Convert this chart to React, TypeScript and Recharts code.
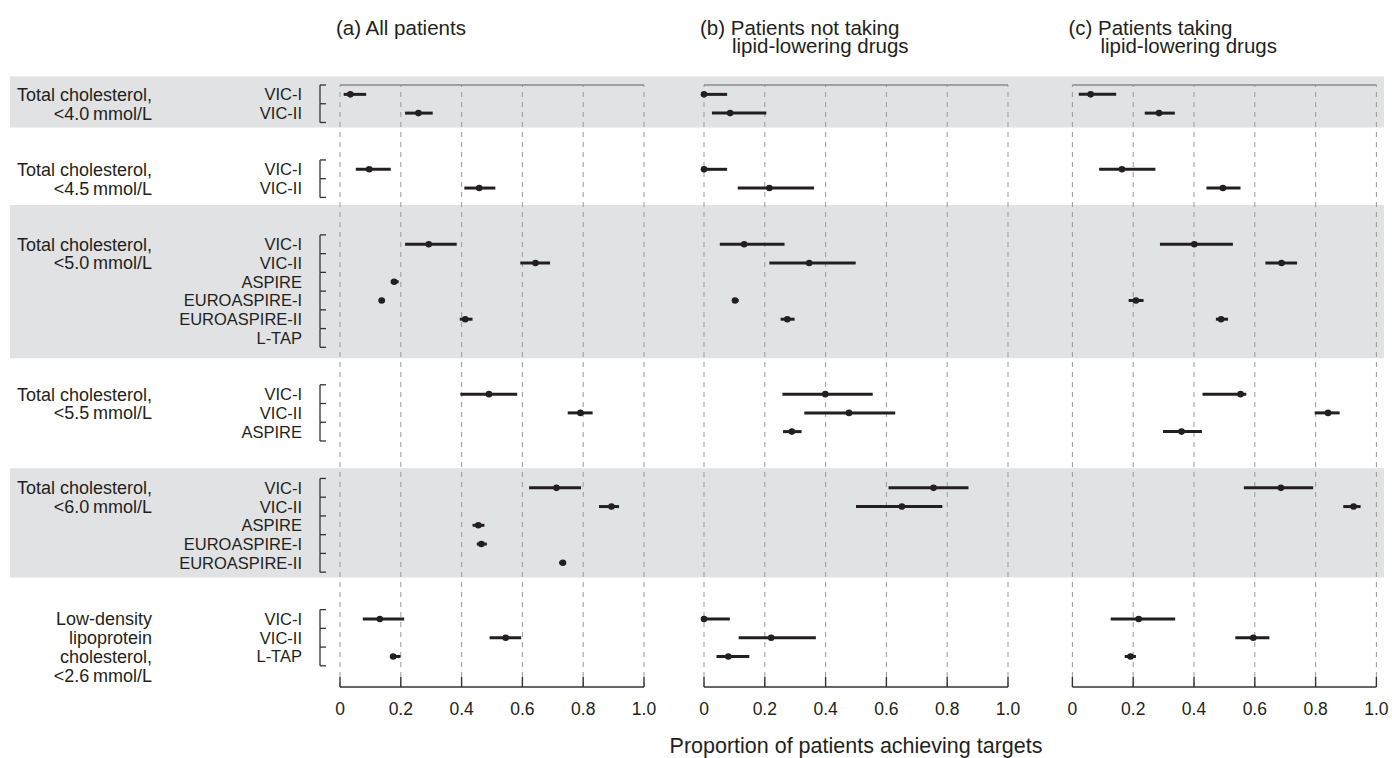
import React from "react";
import {
  ScatterChart,
  Scatter,
  XAxis,
  YAxis,
  ErrorBar,
  ReferenceArea,
  ReferenceLine,
} from "recharts";

// group (target) labels, one entry per line
const groupLabels: string[][] = [
  ["Total cholesterol,", "<4.0\u2009mmol/L"],
  ["Total cholesterol,", "<4.5\u2009mmol/L"],
  ["Total cholesterol,", "<5.0\u2009mmol/L"],
  ["Total cholesterol,", "<5.5\u2009mmol/L"],
  ["Total cholesterol,", "<6.0\u2009mmol/L"],
  ["Low-density", "lipoprotein", "cholesterol,", "<2.6\u2009mmol/L"],
];

// studies inside each group
const groupStudies: string[][] = [
  ["VIC-I", "VIC-II"],
  ["VIC-I", "VIC-II"],
  ["VIC-I", "VIC-II", "ASPIRE", "EUROASPIRE-I", "EUROASPIRE-II", "L-TAP"],
  ["VIC-I", "VIC-II", "ASPIRE"],
  ["VIC-I", "VIC-II", "ASPIRE", "EUROASPIRE-I", "EUROASPIRE-II"],
  ["VIC-I", "VIC-II", "L-TAP"],
];

// (a) all patients: estimate, lower and upper 95% CI (rows in study order above)
const estA = [0.034, 0.258, 0.096, 0.458, 0.292, 0.643, 0.178, 0.137, 0.412, null, 0.49, 0.791, null, 0.712, 0.893, 0.455, 0.465, 0.733, 0.131, 0.545, 0.175];
const loA = [0.012, 0.214, 0.052, 0.409, 0.214, 0.593, 0.167, 0.128, 0.394, null, 0.396, 0.749, null, 0.622, 0.852, 0.436, 0.45, 0.721, 0.075, 0.492, 0.164];
const hiA = [0.086, 0.305, 0.167, 0.511, 0.384, 0.691, 0.193, 0.148, 0.436, null, 0.583, 0.831, null, 0.793, 0.918, 0.475, 0.483, 0.744, 0.211, 0.596, 0.199];

// (b) patients not taking lipid-lowering drugs
const estB = [0.0, 0.086, 0.0, 0.215, 0.132, 0.346, null, 0.102, 0.274, null, 0.399, 0.477, 0.289, 0.755, 0.651, null, null, null, 0.0, 0.221, 0.08];
const loB = [0.0, 0.026, 0.0, 0.111, 0.052, 0.215, null, 0.092, 0.252, null, 0.258, 0.33, 0.26, 0.607, 0.5, null, null, null, 0.0, 0.114, 0.041];
const hiB = [0.076, 0.205, 0.076, 0.362, 0.265, 0.499, null, 0.114, 0.298, null, 0.555, 0.629, 0.321, 0.87, 0.784, null, null, null, 0.085, 0.368, 0.149];

// (c) patients taking lipid-lowering drugs
const estC = [0.06, 0.285, 0.163, 0.495, 0.401, 0.688, null, 0.209, 0.489, null, 0.553, 0.841, 0.359, 0.686, 0.925, null, null, null, 0.218, 0.595, 0.191];
const loC = [0.021, 0.238, 0.088, 0.441, 0.288, 0.635, null, 0.185, 0.472, null, 0.428, 0.797, 0.298, 0.564, 0.891, null, null, null, 0.126, 0.536, 0.172];
const hiC = [0.144, 0.337, 0.273, 0.553, 0.528, 0.739, null, 0.234, 0.512, null, 0.572, 0.879, 0.426, 0.792, 0.948, null, null, null, 0.338, 0.648, 0.209];

const panelTitles: string[][] = [
  ["(a) All patients"],
  ["(b) Patients not taking", "lipid-lowering drugs"],
  ["(c) Patients taking", "lipid-lowering drugs"],
];

const xTicks = [0, 0.2, 0.4, 0.6, 0.8, 1.0];
const xTickLabels = ["0", "0.2", "0.4", "0.6", "0.8", "1.0"];
const axisTitle = "Proportion of patients achieving targets";

// layout
const W = 1392;
const H = 758;
const PLOT_LEFT = 10;
const PLOT_RIGHT = 1384;
const PLOT_TOP = 85;
const PLOT_BOTTOM = 687;
const PANEL_LEFT = [340, 704, 1072.4];
const PANEL_W = 304;
const GROUP_GAP = 2;
const AXIS_EPS = 0.001; // axes need a positive size to be drawn
const INK = "#231f20";
const FONT = "'Liberation Sans', Arial, Helvetica, sans-serif";
const BAND_FILL = "#e1e2e4";
// shaded bands, in row-slot units
const BANDS: [number, number][] = [
  [-0.95, 1.77],
  [5.9, 14.08],
  [19.96, 25.78],
];

type Row = { slot: number; study: string; group: number; first: boolean; last: boolean };

const rows: Row[] = [];
let counter = 0;
groupStudies.forEach((studies, g) => {
  studies.forEach((study, i) => {
    rows.push({
      slot: counter + GROUP_GAP * g,
      study,
      group: g,
      first: i === 0,
      last: i === studies.length - 1,
    });
    counter += 1;
  });
});

const Y_MIN = -0.5;
const Y_MAX = rows[rows.length - 1].slot + 1.63;
const SLOT_PX = (PLOT_BOTTOM - PLOT_TOP) / (Y_MAX - Y_MIN);
const rowBySlot = new Map(rows.map((r) => [r.slot, r]));

const panelSeries = [
  [estA, loA, hiA],
  [estB, loB, hiB],
  [estC, loC, hiC],
];
const panelIds = ["a", "b", "c"];

const panelData = panelSeries.map(([est, lo, hi]) =>
  rows
    .map((r, i) => ({
      slot: r.slot,
      est: est[i],
      err: est[i] == null ? null : [(est[i] as number) - (lo[i] as number), (hi[i] as number) - (est[i] as number)],
    }))
    .filter((d) => d.est != null)
);

const xDomain = (p: number): [number, number] => [
  (PLOT_LEFT - PANEL_LEFT[p]) / PANEL_W,
  (PLOT_RIGHT - PANEL_LEFT[p]) / PANEL_W,
];

const RowTick = (props: any) => {
  const { y, payload } = props;
  const row = rowBySlot.get(payload.value);
  if (!row) return null;
  const top = y - SLOT_PX / 2;
  const bottom = y + SLOT_PX / 2;
  const bx = 320;
  return (
    <g>
      <text x={302} y={y} dy="0.36em" textAnchor="end" fontSize={16.5} fontFamily={FONT} fill={INK}>
        {row.study}
      </text>
      <line x1={bx} x2={bx} y1={top} y2={bottom} stroke="#333" strokeWidth={1.3} />
      <line x1={bx} x2={bx + 6} y1={top} y2={top} stroke="#333" strokeWidth={1.3} />
      {row.last && <line x1={bx} x2={bx + 6} y1={bottom} y2={bottom} stroke="#333" strokeWidth={1.3} />}
      {row.first &&
        groupLabels[row.group].map((t, i) => (
          <text key={i} x={152} y={y + i * SLOT_PX} dy="0.36em" textAnchor="end" fontSize={18} fontFamily={FONT} fill={INK}>
            {t}
          </text>
        ))}
    </g>
  );
};

const AxisTick = (props: any) => {
  const { x, y, payload } = props;
  const idx = xTicks.indexOf(payload.value);
  return (
    <g>
      <line x1={x} x2={x} y1={y - 10} y2={y} stroke="#333" strokeWidth={1.4} />
      <text x={x} y={y + 28} textAnchor="middle" fontSize={17.5} fontFamily={FONT} fill={INK}>
        {idx >= 0 ? xTickLabels[idx] : payload.value}
      </text>
    </g>
  );
};

const Dot = (props: any) => <circle cx={props.cx} cy={props.cy} r={3.3} fill={INK} />;

const App: React.FC = () => {
  return (
    <div style={{ position: "absolute", left: 0, top: 0, width: W, height: H, background: "#fff", fontFamily: FONT }}>
      <ScatterChart
        width={W}
        height={H}
        margin={{
          top: PLOT_TOP,
          right: W - PLOT_RIGHT,
          bottom: H - PLOT_BOTTOM - 3 * AXIS_EPS,
          left: PLOT_LEFT - AXIS_EPS,
        }}
      >
        {panelIds.map((id, p) => (
          <XAxis
            key={id}
            xAxisId={id}
            type="number"
            dataKey="est"
            domain={xDomain(p)}
            allowDataOverflow
            ticks={xTicks}
            interval={0}
            height={AXIS_EPS}
            axisLine={false}
            tickLine={false}
            tickSize={0}
            tickMargin={0}
            tick={<AxisTick />}
          />
        ))}
        <YAxis
          yAxisId="rows"
          type="number"
          dataKey="slot"
          reversed
          domain={[Y_MIN, Y_MAX]}
          allowDataOverflow
          ticks={rows.map((r) => r.slot)}
          interval={0}
          width={AXIS_EPS}
          axisLine={false}
          tickLine={false}
          tick={<RowTick />}
        />
        {BANDS.map(([y1, y2], i) => (
          <ReferenceArea
            key={`band-${i}`}
            xAxisId="a"
            yAxisId="rows"
            y1={y1}
            y2={y2}
            fill={BAND_FILL}
            fillOpacity={1}
            stroke="none"
            ifOverflow="visible"
          />
        ))}
        {panelIds.map((id) =>
          xTicks.map((t) => (
            <ReferenceLine
              key={`grid-${id}-${t}`}
              xAxisId={id}
              yAxisId="rows"
              x={t}
              stroke="#999"
              strokeWidth={1}
              strokeDasharray="5 5"
            />
          ))
        )}
        {panelIds.map((id) => (
          <ReferenceLine
            key={`top-${id}`}
            xAxisId={id}
            yAxisId="rows"
            segment={[
              { x: 0, y: Y_MIN },
              { x: 1, y: Y_MIN },
            ]}
            stroke="#8a8a8a"
            strokeWidth={1.3}
          />
        ))}
        {panelIds.map((id) => (
          <ReferenceLine
            key={`base-${id}`}
            xAxisId={id}
            yAxisId="rows"
            segment={[
              { x: 0, y: Y_MAX },
              { x: 1, y: Y_MAX },
            ]}
            stroke="#333"
            strokeWidth={1.5}
          />
        ))}
        {panelIds.map((id, p) => (
          <Scatter
            key={`s-${id}`}
            xAxisId={id}
            yAxisId="rows"
            data={panelData[p]}
            fill={INK}
            shape={<Dot />}
            isAnimationActive={false}
          >
            <ErrorBar dataKey="err" direction="x" width={0} stroke={INK} strokeWidth={3} />
          </Scatter>
        ))}
      </ScatterChart>
      <svg width={W} height={H} style={{ position: "absolute", left: 0, top: 0, pointerEvents: "none" }}>
        {panelTitles.map((lines, p) =>
          lines.map((t, i) => (
            <text
              key={`${p}-${i}`}
              x={PANEL_LEFT[p] - 4 + (i > 0 ? 32 : 0)}
              y={34.5 + i * 18.5}
              fontSize={20.5}
              fontFamily={FONT}
              fill={INK}
            >
              {t}
            </text>
          ))
        )}
        <text x={(PANEL_LEFT[1] * 2 + PANEL_W) / 2} y={753} textAnchor="middle" fontSize={21.5} fontFamily={FONT} fill={INK}>
          {axisTitle}
        </text>
      </svg>
    </div>
  );
};

export default App;
